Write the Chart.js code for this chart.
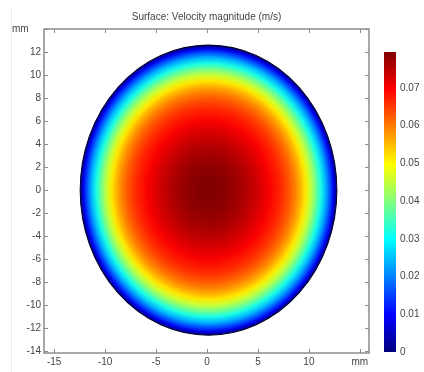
<!DOCTYPE html>
<html>
<head>
<meta charset="utf-8">
<script src="https://cdn.jsdelivr.net/npm/chart.js@4/dist/chart.umd.min.js"></script>
<style>
  html, body { margin: 0; padding: 0; background: #fff; overflow: hidden; }
  #wrap { position: relative; width: 424px; height: 372px; }
  #main { position: absolute; left: 0; top: 0; }
  #cbar { position: absolute; left: 370px; top: 0; }
  #edge { position: absolute; left: 11px; top: 8px; width: 0; height: 364px; border-left: 1px solid #ececec; }
</style>
</head>
<body>
<div id="wrap">
  <div id="edge"></div>
  <canvas id="main" width="424" height="372"></canvas>
  <canvas id="cbar" width="54" height="372"></canvas>
</div>
<script>
// ---- data ----
const titleText = "Surface: Velocity magnitude (m/s)";
// radial velocity profile across the pipe section (distance from centre, mm)
const radiusMm = [0, 1, 2, 3, 4, 5, 6, 7, 7.5, 8, 8.5, 9, 9.5, 10, 10.5, 11, 11.5, 12, 12.3, 12.6];
const velocity = [0.0795, 0.0792, 0.0783, 0.0769, 0.0750, 0.0727, 0.0700, 0.0668, 0.0648, 0.0625, 0.0596, 0.0560, 0.0515, 0.0455, 0.0392, 0.0318, 0.0240, 0.0150, 0.0080, 0.0];
const sectionCentre = [0.15, 0.0];            // mm
const xTickValues = [-15, -10, -5, 0, 5, 10, 15];
const xTickLabels = ["-15", "-10", "-5", "0", "5", "10", "mm"];
const yTickValues = [-14, -12, -10, -8, -6, -4, -2, 0, 2, 4, 6, 8, 10, 12, 14];
const yTickLabels = ["-14", "-12", "-10", "-8", "-6", "-4", "-2", "0", "2", "4", "6", "8", "10", "12", ""];
const cbTickValues = [0, 0.01, 0.02, 0.03, 0.04, 0.05, 0.06, 0.07];
const cbTickLabels = ["0", "0.01", "0.02", "0.03", "0.04", "0.05", "0.06", "0.07"];
const cbMax = 0.0795;

// ---- styling helpers ----
const FONT = "'Liberation Sans', Arial, sans-serif";
const TEXT = "#444";
const AXIS = "#8c8c8c";

function jet(t) {
  t = Math.max(0, Math.min(1, t));
  const c = v => Math.round(255 * Math.max(0, Math.min(1, v)));
  const r = c(1.5 - Math.abs(4 * t - 3));
  const g = c(1.5 - Math.abs(4 * t - 2));
  const b = c(1.5 - Math.abs(4 * t - 1));
  return `rgb(${r},${g},${b})`;
}

const surfacePlugin = {
  id: 'surface',
  beforeDatasetsDraw(chart) {
    const xs = chart.scales.x, ys = chart.scales.y, ctx = chart.ctx;
    const R = radiusMm[radiusMm.length - 1];
    const cx = xs.getPixelForValue(sectionCentre[0]);
    const cy = ys.getPixelForValue(sectionCentre[1]);
    const rx = xs.getPixelForValue(sectionCentre[0] + R) - cx;
    const ry = cy - ys.getPixelForValue(sectionCentre[1] + R);
    ctx.save();
    ctx.translate(cx, cy);
    ctx.scale(1, ry / rx);
    const grad = ctx.createRadialGradient(0, 0, 0, 0, 0, rx);
    radiusMm.forEach((r, i) => grad.addColorStop(r / R, jet(velocity[i] / cbMax)));
    ctx.beginPath();
    ctx.arc(0, 0, rx, 0, Math.PI * 2);
    ctx.fillStyle = grad;
    ctx.fill();
    ctx.lineWidth = 1;
    ctx.strokeStyle = '#00002a';
    ctx.stroke();
    ctx.restore();
  },
  afterDraw(chart) {
    const ctx = chart.ctx, a = chart.chartArea;
    const xs = chart.scales.x, ys = chart.scales.y;
    ctx.save();
    ctx.strokeStyle = AXIS;
    ctx.lineWidth = 1.5;
    ctx.strokeRect(a.left, a.top, a.right - a.left, a.bottom - a.top);
    ctx.lineWidth = 1;
    const L = 4;
    ctx.beginPath();
    xTickValues.forEach(v => {
      const px = Math.round(xs.getPixelForValue(v)) + 0.5;
      ctx.moveTo(px, a.bottom); ctx.lineTo(px, a.bottom - L);
      ctx.moveTo(px, a.top); ctx.lineTo(px, a.top + L);
    });
    yTickValues.forEach(v => {
      const py = Math.round(ys.getPixelForValue(v)) + 0.5;
      ctx.moveTo(a.left, py); ctx.lineTo(a.left + L, py);
      ctx.moveTo(a.right, py); ctx.lineTo(a.right - L, py);
    });
    ctx.stroke();
    // unit label of the vertical axis
    ctx.fillStyle = TEXT;
    ctx.font = "10px " + FONT;
    ctx.textAlign = 'left';
    ctx.textBaseline = 'middle';
    ctx.fillText('mm', 12, ys.getPixelForValue(14));
    ctx.restore();
  }
};

new Chart(document.getElementById('main'), {
  type: 'scatter',
  data: { datasets: [{ data: [], pointRadius: 0 }] },
  options: {
    responsive: false,
    animation: false,
    layout: { padding: { left: 0, right: 55, top: 11, bottom: 1 } },
    plugins: {
      legend: { display: false },
      tooltip: { enabled: false },
      title: {
        display: true, text: titleText, fullSize: false,
        color: TEXT, font: { family: FONT, size: 10, weight: 'normal' },
        padding: { top: 0, bottom: 6 }
      }
    },
    scales: {
      x: {
        type: 'linear', min: -16, max: 15.9,
        afterBuildTicks: s => { s.ticks = xTickValues.map(v => ({ value: v })); },
        grid: { display: false, drawTicks: false },
        border: { display: false },
        ticks: { color: TEXT, font: { family: FONT, size: 10 }, padding: 3, maxRotation: 0,
                 callback: (v, i) => xTickLabels[i] }
      },
      y: {
        type: 'linear', min: -14.15, max: 14,
        afterBuildTicks: s => { s.ticks = yTickValues.map(v => ({ value: v })); },
        afterFit: s => { s.width = 44; },
        grid: { display: false, drawTicks: false },
        border: { display: false },
        ticks: { color: TEXT, font: { family: FONT, size: 10 }, padding: 3,
                 callback: (v, i) => yTickLabels[i] }
      }
    }
  },
  plugins: [surfacePlugin]
});

// colour bar
new Chart(document.getElementById('cbar'), {
  type: 'bar',
  data: {
    labels: [''],
    datasets: [{
      data: [cbMax],
      borderWidth: 0,
      barPercentage: 1,
      categoryPercentage: 1,
      backgroundColor: (c) => {
        const a = c.chart.chartArea;
        if (!a) return '#800000';
        const g = c.chart.ctx.createLinearGradient(0, a.bottom, 0, a.top);
        [0, 0.125, 0.375, 0.625, 0.875, 1].forEach(t => g.addColorStop(t, jet(t)));
        return g;
      }
    }]
  },
  options: {
    responsive: false,
    animation: false,
    layout: { padding: { left: 14, right: 0, top: 52, bottom: 20 } },
    plugins: { legend: { display: false }, tooltip: { enabled: false } },
    scales: {
      x: { display: false },
      y: {
        position: 'right', min: 0, max: cbMax,
        afterBuildTicks: s => { s.ticks = cbTickValues.map(v => ({ value: v })); },
        afterFit: s => { s.width = 28; },
        grid: { display: false, drawTicks: false },
        border: { display: false },
        ticks: { color: TEXT, font: { family: FONT, size: 10 }, padding: 4,
                 callback: (v, i) => cbTickLabels[i] }
      }
    }
  }
});
</script>
</body>
</html>
